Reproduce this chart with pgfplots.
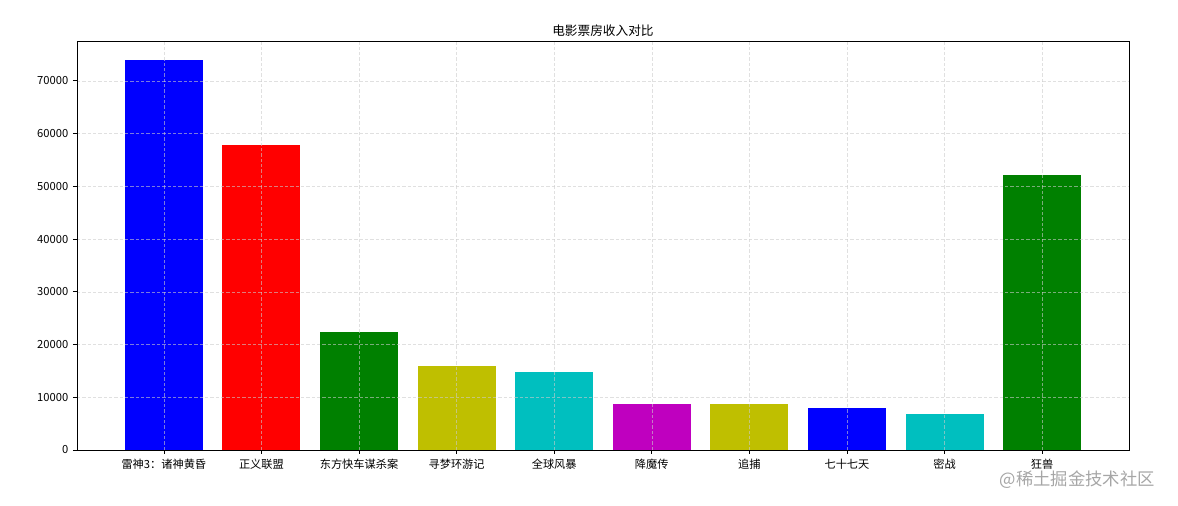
\documentclass[border=0pt]{standalone}
\usepackage{pgfplots}
\pgfplotsset{compat=1.18}
\usepackage{fontspec}
\setmainfont{Noto Sans CJK SC}
\definecolor{mb}{rgb}{0,0,1}
\definecolor{mr}{rgb}{1,0,0}
\definecolor{mg}{rgb}{0,0.5,0}
\definecolor{my}{rgb}{0.75,0.75,0}
\definecolor{mc}{rgb}{0,0.75,0.75}
\definecolor{mm}{rgb}{0.75,0,0.75}
\begin{document}
\begin{tikzpicture}
\begin{axis}[
  at={(0,0)}, anchor=south west,
  scale only axis,
  width=789pt, height=306.75pt,
  xmin=-0.89, xmax=9.89,
  ymin=0, ymax=77546,
  ybar, bar width=0.8, bar shift=0pt,
  xtick={0,...,9},
  xticklabels={雷神3：诸神黄昏,正义联盟,东方快车谋杀案,寻梦环游记,全球风暴,降魔传,追捕,七十七天,密战,狂兽},
  ytick={0,10000,...,70000},
  scaled y ticks=false,
  /pgf/number format/assume math mode=true,
  /pgf/number format/1000 sep={},
  ticklabel style={font=\fontsize{8.4}{9.5}\selectfont},
  tick pos=left,
  tick align=outside,
  major tick length=3pt,
  tick style={black, line width=0.5pt},
  grid=major,
  major grid style={dash pattern=on 2.5pt off 1.5pt, draw=black!20, opacity=0.6, line width=0.4pt},
  axis on top,
  axis line style={black, line width=0.6pt},
  title={电影票房收入对比},
  title style={font=\fontsize{9.5}{11}\selectfont, yshift=-6.5pt},
  clip=false,
]
\addplot[fill=mb, draw=none] coordinates {(0,73853)};
\addplot[fill=mr, draw=none] coordinates {(1,57767)};
\addplot[fill=mg, draw=none] coordinates {(2,22354)};
\addplot[fill=my, draw=none] coordinates {(3,15969)};
\addplot[fill=mc, draw=none] coordinates {(4,14839)};
\addplot[fill=mm, draw=none] coordinates {(5,8725)};
\addplot[fill=my, draw=none] coordinates {(6,8716)};
\addplot[fill=mb, draw=none] coordinates {(7,7916)};
\addplot[fill=mc, draw=none] coordinates {(8,6764)};
\addplot[fill=mg, draw=none] coordinates {(9,52222)};
\end{axis}
\node[text=black!35, font=\fontsize{13}{15}\selectfont, anchor=east] at (812pt,-22.5pt) {@稀土掘金技术社区};
\path (-57.75pt,-42pt) rectangle (825.75pt,337.5pt);
\end{tikzpicture}
\end{document}
